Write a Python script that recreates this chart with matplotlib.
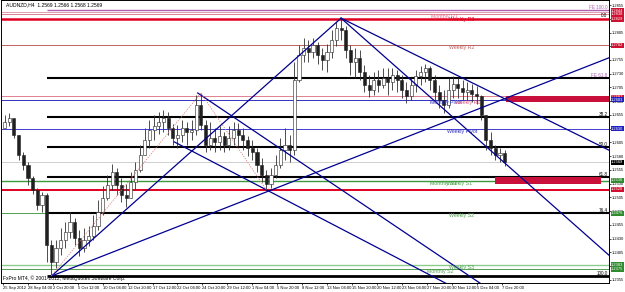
import matplotlib
matplotlib.use("Agg")
import matplotlib.pyplot as plt
import matplotlib.transforms as mtransforms
import numpy as np

plt.rcParams['font.family'] = ['Liberation Sans', 'DejaVu Sans']

# AUDNZD H4, squeezed to one candle per 3 bars (12h)
open0 = 1.2631
close = [1.2642, 1.2650, 1.2619, 1.2582, 1.2564, 1.2540, 1.2519, 1.2491, 1.2510, 1.2419,
         1.2388, 1.2413, 1.2428, 1.2442, 1.2460, 1.2431, 1.2413, 1.2428, 1.2435, 1.2453,
         1.2479, 1.2504, 1.2528, 1.2551, 1.2528, 1.2510, 1.2504, 1.2533, 1.2555, 1.2582,
         1.2610, 1.2628, 1.2635, 1.2642, 1.2650, 1.2631, 1.2613, 1.2619, 1.2631, 1.2624,
         1.2628, 1.2673, 1.2637, 1.2600, 1.2613, 1.2606, 1.2617, 1.2600, 1.2613, 1.2628,
         1.2619, 1.2610, 1.2595, 1.2588, 1.2564, 1.2546, 1.2530, 1.2546, 1.2564, 1.2591,
         1.2600, 1.2591, 1.2719, 1.2764, 1.2777, 1.2770, 1.2782, 1.2764, 1.2755, 1.2770,
         1.2791, 1.2813, 1.2810, 1.2773, 1.2751, 1.2759, 1.2733, 1.2710, 1.2700, 1.2719,
         1.2710, 1.2722, 1.2715, 1.2728, 1.2719, 1.2700, 1.2690, 1.2710, 1.2726, 1.2733,
         1.2740, 1.2719, 1.2697, 1.2682, 1.2673, 1.2700, 1.2711, 1.2704, 1.2697, 1.2700,
         1.2693, 1.2690, 1.2655, 1.2610, 1.2595, 1.2582, 1.2586, 1.2569]
high = [1.2655, 1.2659, 1.2646, 1.2619, 1.2588, 1.2570, 1.2544, 1.2522, 1.2515, 1.2513,
        1.2428, 1.2428, 1.2450, 1.2460, 1.2479, 1.2468, 1.2446, 1.2450, 1.2453, 1.2473,
        1.2500, 1.2526, 1.2546, 1.2566, 1.2559, 1.2540, 1.2530, 1.2551, 1.2570, 1.2600,
        1.2631, 1.2646, 1.2655, 1.2660, 1.2664, 1.2660, 1.2639, 1.2637, 1.2646, 1.2642,
        1.2646, 1.2691, 1.2695, 1.2646, 1.2642, 1.2631, 1.2635, 1.2624, 1.2635, 1.2642,
        1.2640, 1.2631, 1.2617, 1.2610, 1.2595, 1.2577, 1.2555, 1.2559, 1.2582, 1.2613,
        1.2631, 1.2619, 1.2751, 1.2782, 1.2795, 1.2791, 1.2795, 1.2788, 1.2777, 1.2784,
        1.2810, 1.2824, 1.2831, 1.2817, 1.2782, 1.2777, 1.2773, 1.2746, 1.2728, 1.2733,
        1.2737, 1.2740, 1.2740, 1.2740, 1.2737, 1.2728, 1.2715, 1.2722, 1.2737, 1.2744,
        1.2748, 1.2744, 1.2728, 1.2710, 1.2700, 1.2722, 1.2726, 1.2722, 1.2719, 1.2715,
        1.2711, 1.2708, 1.2691, 1.2655, 1.2624, 1.2600, 1.2595, 1.2591]
low = [1.2631, 1.2635, 1.2613, 1.2573, 1.2555, 1.2528, 1.2511, 1.2482, 1.2479, 1.2388,
       1.2362, 1.2377, 1.2400, 1.2413, 1.2431, 1.2419, 1.2399, 1.2406, 1.2417, 1.2428,
       1.2446, 1.2473, 1.2500, 1.2519, 1.2510, 1.2497, 1.2488, 1.2504, 1.2519, 1.2551,
       1.2582, 1.2595, 1.2610, 1.2620, 1.2624, 1.2619, 1.2600, 1.2595, 1.2606, 1.2600,
       1.2610, 1.2619, 1.2628, 1.2588, 1.2591, 1.2588, 1.2591, 1.2588, 1.2591, 1.2600,
       1.2599, 1.2591, 1.2580, 1.2573, 1.2551, 1.2533, 1.2519, 1.2522, 1.2540, 1.2559,
       1.2573, 1.2570, 1.2582, 1.2715, 1.2751, 1.2751, 1.2759, 1.2748, 1.2737, 1.2733,
       1.2759, 1.2780, 1.2791, 1.2759, 1.2728, 1.2722, 1.2719, 1.2697, 1.2688, 1.2691,
       1.2697, 1.2704, 1.2691, 1.2700, 1.2697, 1.2686, 1.2677, 1.2682, 1.2697, 1.2710,
       1.2715, 1.2700, 1.2682, 1.2668, 1.2659, 1.2668, 1.2686, 1.2686, 1.2682, 1.2682,
       1.2679, 1.2675, 1.2646, 1.2591, 1.2582, 1.2573, 1.2570, 1.2562]

time_labels = ["25 Sep 2012", "28 Sep 04:00", "2 Oct 20:00", "5 Oct 12:00", "10 Oct 04:00",
               "12 Oct 20:00", "17 Oct 12:00", "22 Oct 04:00", "24 Oct 20:00", "29 Oct 12:00",
               "1 Nov 04:00", "5 Nov 20:00", "8 Nov 12:00", "13 Nov 04:00", "15 Nov 20:00",
               "20 Nov 12:00", "23 Nov 04:00", "27 Nov 20:00", "30 Nov 12:00", "5 Dec 04:00",
               "7 Dec 20:00"]

# horizontal levels: price, colour, width, start bar (None = whole chart)
level_price = [1.2846, 1.2843, 1.2839, 1.2829, 1.2782, 1.2722, 1.2689, 1.2683, 1.2651,
               1.2630, 1.2597, 1.2569, 1.2542, 1.2535, 1.2519, 1.2476, 1.2476, 1.2382,
               1.2375, 1.2362]
level_color = ["#b060b0", "#e0a0b0", "#e08090", "#e00020", "#c06060", "black", "#e08090",
               "#3030c0", "black", "#4040d0", "black", "#c8c8c8", "black", "#3c9a3c",
               "#e00020", "#50a050", "black", "#8ccc8c", "#50a050", "black"]
level_width = [1.0, 0.7, 0.7, 1.8, 0.7, 1.5, 0.7, 0.7, 1.5, 0.7, 1.5, 0.6, 1.5, 1.0,
               1.4, 0.7, 1.5, 1.0, 0.7, 2.0]
level_start = [28, None, None, None, None, 28, None, None, 28, None, 28, None, 28, None,
               None, None, 28, None, None, 28]

# names written on the levels
name_text = ["Monthly R1", "Weekly R3", "Weekly R2", "Monthly Pivot", "Weekly R1",
             "Weekly Pivot", "Monthly S1", "Weekly S1", "Weekly S2", "Weekly S3", "Monthly S2"]
name_price = [1.2839, 1.2833, 1.2782, 1.2683, 1.2683, 1.2630, 1.2535, 1.2535, 1.2476,
              1.2382, 1.2375]
name_bar = [275, 286, 286, 274, 290, 285, 274, 285, 286, 286, 272]
name_color = ["#e07090", "#e00020", "#c06060", "#3030c0", "#e06080", "#3030c0",
              "#3c9a3c", "#50a050", "#50a050", "#50a050", "#50a050"]

# fibonacci captions at the right end
fib_text = ["FE 100.0", "0.0", "FE 61.8", "38.2", "50.0", "61.8", "76.4", "100.0"]
fib_price = [1.2846, 1.2831, 1.2722, 1.2651, 1.2597, 1.2542, 1.2476, 1.2362]
fib_color = ["#b060b0", "black", "#b060b0", "black", "black", "black", "black", "black"]

# price tags on the scale
tag_price = [1.2844, 1.2838, 1.2829, 1.2782, 1.2687, 1.2683, 1.2630, 1.2569, 1.2536,
             1.2520, 1.2476, 1.2383, 1.2375]
tag_color = ["#d01030", "#d01030", "#d01030", "#d01030", "#d01030", "#2020c0", "#2020c0",
             "black", "#2e8b2e", "#d01030", "#2e8b2e", "#2e8b2e", "#2e8b2e"]

# trend lines: (bar, price) pairs
trend_bar = [(31, 217), (31, 389), (217, 389), (217, 389), (125, 310), (110, 289)]
trend_price = [(1.2362, 1.2831), (1.2362, 1.2759), (1.2831, 1.2591), (1.2831, 1.2400),
               (1.2695, 1.2342), (1.2606, 1.2342)]

# fibonacci expansion path (dotted)
fe_bar = [31, 127, 169]
fe_price = [1.2362, 1.2695, 1.2519]

# zones
zone_bar = [(323, 389), (316, 384)]
zone_price = [(1.2679, 1.2690), (1.2530, 1.2542)]

XMIN, XMAX = -1.3, 389
YMIN, YMAX = 1.23495, 1.28641


def main():
    fig = plt.figure(figsize=(6.25, 2.92), dpi=100)
    fig.patch.set_facecolor("white")
    ax = fig.add_axes([1 / 625, 9 / 292, 608 / 625, 283 / 292])
    ax.set_xlim(XMIN, XMAX)
    ax.set_ylim(YMIN, YMAX)

    # levels
    for p, c, w, s in zip(level_price, level_color, level_width, level_start):
        ax.hlines(p, XMIN if s is None else s, XMAX, color=c, lw=w, zorder=2)

    for (b0, b1), (p0, p1) in zip(zone_bar, zone_price):
        ax.fill_between([b0, b1], p0, p1, color="#c8103a", lw=0, zorder=3)

    # candles
    xs = np.arange(len(close)) * 3 + 1
    opens = [open0] + close[:-1]
    ax.vlines(xs, low, high, color="#303030", lw=0.6, zorder=4)
    for x, o, c in zip(xs, opens, close):
        bull = c >= o
        ax.bar(x, abs(c - o) if abs(c - o) > 0.00005 else 0.00005, width=2.0,
               bottom=min(o, c), color="white" if bull else "#202020",
               edgecolor="#202020", lw=0.4, zorder=5)

    # trend lines
    for bb, pp in zip(trend_bar, trend_price):
        ax.plot(bb, pp, color="#000090", lw=0.9, zorder=6)
    ax.plot(fe_bar, fe_price, color="#e08080", lw=0.6, ls=(0, (1.5, 1.5)), zorder=6)

    for t, p, b, c in zip(name_text, name_price, name_bar, name_color):
        ax.text(b, p, t, fontsize=3.8, color=c, va="top", ha="left", zorder=7)
    for t, p, c in zip(fib_text, fib_price, fib_color):
        ax.text(388, p, t, fontsize=3.3, color=c, va="bottom", ha="right", zorder=7)

    # price scale
    ax.yaxis.tick_right()
    ax.set_yticks(np.arange(1.2355, 1.2856, 0.0025))
    ax.yaxis.set_major_formatter(matplotlib.ticker.FormatStrFormatter("%.4f"))
    ax.tick_params(axis="y", labelsize=2.9, length=1.5, width=0.5, pad=0.8)
    trans = mtransforms.blended_transform_factory(ax.transAxes, ax.transData)
    for p, c in zip(tag_price, tag_color):
        ax.text(1.0035, p, "%.4f" % p, transform=trans, fontsize=2.9, color="white",
                va="center", ha="left", zorder=8, clip_on=False,
                bbox=dict(facecolor=c, edgecolor="none", pad=0.4))

    # time scale
    ax.set_xticks(np.arange(len(time_labels)) * 16)
    ax.set_xticklabels(time_labels, fontsize=3.0, ha="left")
    ax.tick_params(axis="x", length=1.5, width=0.5, pad=1)

    for sp in ax.spines.values():
        sp.set_linewidth(0.7)

    ax.text(2, YMAX - 0.0004, "AUDNZD,H4  1.2569 1.2566 1.2568 1.2569",
            fontsize=3.6, va="top", ha="left", zorder=9)
    ax.text(0, YMIN + 0.0004, "FxPro MT4, \u00a9 2001-2012, MetaQuotes Software Corp.",
            fontsize=3.6, va="bottom", ha="left", zorder=9)

    fig.savefig("out.png", dpi=100)


if __name__ == "__main__":
    main()
